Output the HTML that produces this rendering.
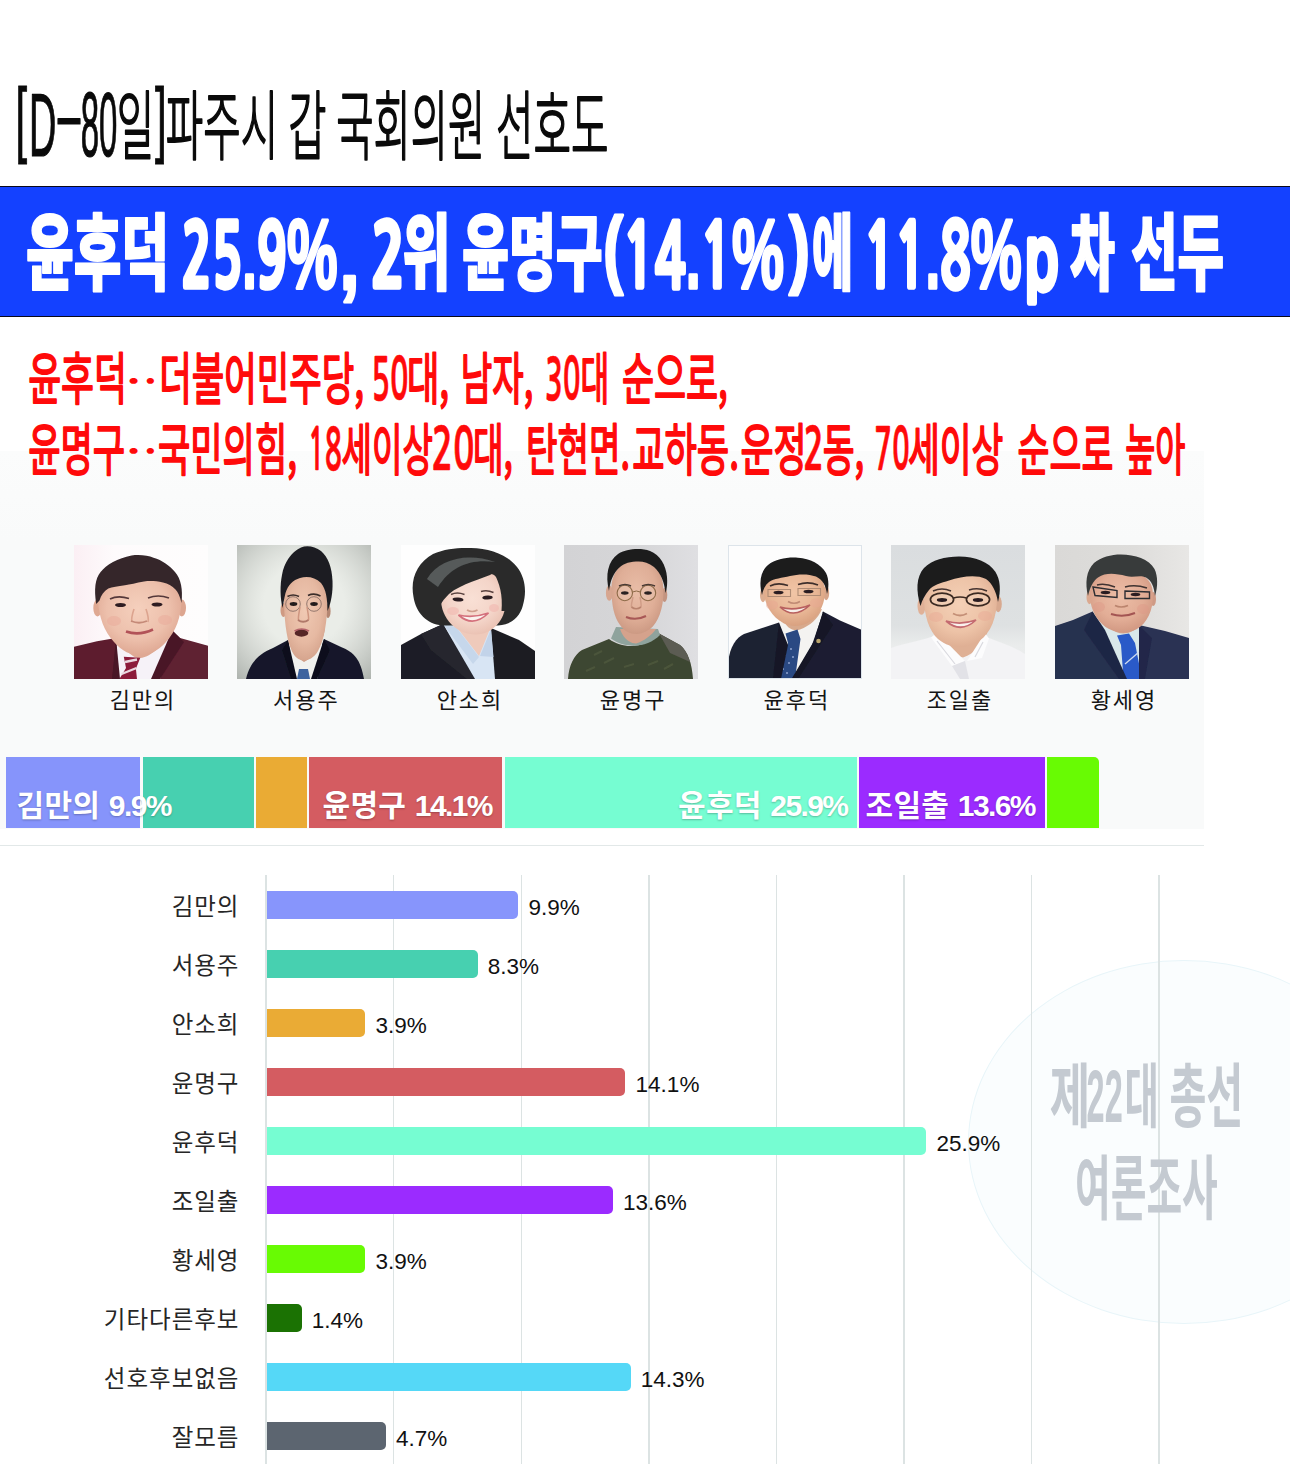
<!DOCTYPE html>
<html lang="ko"><head><meta charset="utf-8"><title>파주시 갑 국회의원 선호도</title>
<style>
html,body{margin:0;padding:0;background:#fff;}
body{width:1290px;height:1474px;position:relative;overflow:hidden;font-family:"Liberation Sans","Noto Sans CJK KR",sans-serif;}
.abs{position:absolute;}
#panel{left:0;top:451px;width:1204px;height:378px;background:linear-gradient(#fbfcfc 0,#f9fafa 90px,#f9fafa 100%);}
#banner{left:-2px;top:185.6px;width:1294px;height:129.2px;background:#1441ff;border:1px solid #0a0a1a;}
.seg{position:absolute;top:757px;height:71px;}
.seglab{position:absolute;top:788px;height:36px;line-height:36px;font-size:30px;font-weight:700;color:#fff;white-space:nowrap;letter-spacing:0.3px;text-shadow:0 1px 2px rgba(0,0,0,.25);font-family:"Liberation Sans","Noto Sans CJK KR",sans-serif;}
.seglab b{font-weight:700;letter-spacing:-1.6px;}
#hr{left:0;top:844.6px;width:1204px;height:1.5px;background:#e2e8e8;}
.grid{position:absolute;top:875px;width:1.5px;height:589px;background:#dce3e3;}
.bar{position:absolute;left:267px;height:28.4px;border-radius:0 5px 5px 0;}
.lab{position:absolute;left:41.5px;width:198px;text-align:right;height:28px;line-height:28px;font-size:23.5px;color:#262626;letter-spacing:1px;white-space:nowrap;font-family:"Noto Sans CJK KR","Liberation Sans",sans-serif;}
  .val{position:absolute;height:28px;line-height:28px;font-size:22.5px;color:#111;white-space:nowrap;font-family:"Liberation Sans",sans-serif;}
.pname{position:absolute;top:682px;width:134px;text-align:center;font-size:22px;letter-spacing:2px;padding-left:4px;box-sizing:border-box;line-height:32px;color:#151515;white-space:nowrap;font-family:"Noto Sans CJK KR","Liberation Sans",sans-serif;}
.photo{position:absolute;top:545px;width:134px;height:134px;overflow:hidden;}
svg{position:absolute;left:0;top:0;}
</style></head><body>

<div class="abs" id="panel"></div>
<div class="abs" id="banner"></div>
<div class="seg" style="left:6px;width:134.0px;background:#8694fb"></div>
<div class="seg" style="left:142.5px;width:111.0px;background:#47d0b0"></div>
<div class="seg" style="left:256px;width:51.0px;background:#eaab34"></div>
<div class="seg" style="left:309.3px;width:193.0px;background:#d45c61"></div>
<div class="seg" style="left:504.7px;width:352.6px;background:#76fdd2"></div>
<div class="seg" style="left:859.3px;width:185.7px;background:#9b2bff"></div>
<div class="seg" style="left:1047px;width:52.0px;background:#68fb03;border-radius:0 5px 0 0"></div>
<div class="seglab" style="left:16.5px">김만의 <b>9.9%</b></div>
<div class="seglab" style="left:322.5px">윤명구 <b>14.1%</b></div>
<div class="seglab" style="left:678px">윤후덕 <b>25.9%</b></div>
<div class="seglab" style="left:865.5px">조일출 <b>13.6%</b></div>
<div class="abs" id="hr"></div>
<div class="abs" style="left:968px;top:960px;width:432px;height:364px;border-radius:50%;background:#fafdfe;border:1px solid #e8f5f9;box-sizing:border-box"></div>
<div class="grid" style="left:265.2px"></div>
<div class="grid" style="left:392.9px"></div>
<div class="grid" style="left:520.5px"></div>
<div class="grid" style="left:648.0px"></div>
<div class="grid" style="left:775.6px"></div>
<div class="grid" style="left:903.2px"></div>
<div class="grid" style="left:1030.8px"></div>
<div class="grid" style="left:1158.4px"></div>
<div class="lab" style="top:890.8px">김만의</div>
<div class="bar" style="top:890.8px;width:251.3px;background:#8795fc"></div>
<div class="val" style="top:893.8px;left:528.5px">9.9%</div>
<div class="lab" style="top:949.8px">서용주</div>
<div class="bar" style="top:949.8px;width:210.5px;background:#47d0b0"></div>
<div class="val" style="top:952.8px;left:487.8px">8.3%</div>
<div class="lab" style="top:1008.8px">안소희</div>
<div class="bar" style="top:1008.8px;width:98.2px;background:#eaab35"></div>
<div class="val" style="top:1011.8px;left:375.6px">3.9%</div>
<div class="lab" style="top:1067.8px">윤명구</div>
<div class="bar" style="top:1067.8px;width:358.4px;background:#d45c61"></div>
<div class="val" style="top:1070.8px;left:635.6px">14.1%</div>
<div class="lab" style="top:1126.8px">윤후덕</div>
<div class="bar" style="top:1126.8px;width:659.2px;background:#76fdd2"></div>
<div class="val" style="top:1129.8px;left:936.5px">25.9%</div>
<div class="lab" style="top:1185.8px">조일출</div>
<div class="bar" style="top:1185.8px;width:345.6px;background:#9b2bff"></div>
<div class="val" style="top:1188.8px;left:622.9px">13.6%</div>
<div class="lab" style="top:1244.8px">황세영</div>
<div class="bar" style="top:1244.8px;width:98.2px;background:#68fb03"></div>
<div class="val" style="top:1247.8px;left:375.6px">3.9%</div>
<div class="lab" style="top:1303.8px">기타다른후보</div>
<div class="bar" style="top:1303.8px;width:34.5px;background:#1b7203"></div>
<div class="val" style="top:1306.8px;left:311.8px">1.4%</div>
<div class="lab" style="top:1362.8px">선호후보없음</div>
<div class="bar" style="top:1362.8px;width:363.5px;background:#55d8f7"></div>
<div class="val" style="top:1365.8px;left:640.8px">14.3%</div>
<div class="lab" style="top:1421.8px">잘모름</div>
<div class="bar" style="top:1421.8px;width:118.7px;background:#5c6570"></div>
<div class="val" style="top:1424.8px;left:395.9px">4.7%</div>
<div class="photo" style="left:74px"><svg width="134" height="134" viewBox="0 0 134 134"><defs><filter id="b1" x="-5%" y="-5%" width="110%" height="110%"><feGaussianBlur stdDeviation="0.55"/></filter><filter id="s1" x="-30%" y="-30%" width="160%" height="160%"><feGaussianBlur stdDeviation="3"/></filter><radialGradient id="f1" cx="0.48" cy="0.42" r="0.62"><stop offset="0" stop-color="#f5d0bd"/><stop offset="0.6" stop-color="#edc0ac"/><stop offset="1" stop-color="#dca38e"/></radialGradient><linearGradient id="g1" x1="0" x2="1" y1="0" y2="0"><stop offset="0" stop-color="#fbeff4"/><stop offset="0.3" stop-color="#fefbfc"/><stop offset="1" stop-color="#fefdfd"/></linearGradient></defs>
<rect width="134" height="134" fill="url(#g1)"/>
<g filter="url(#b1)">
<path d="M0,101.8 L23,96.300 L42,93 L47,134 L0,134Z" fill="#5d1e2f"/>
<path d="M134,100.700 L106,93 L98,85.300 L78,134 L134,134Z" fill="#5f2032"/>
<path d="M42,92 L98,85 L86,134 L44,134Z" fill="#f6f2f8"/>
<path d="M47,88 C50,106 58,113 66,113 C78,112 92,98 96,82 Z" fill="#dfa994"/>
<path d="M49.800,111.700 L66.300,112.800 L61.900,123.800 L63,134 L45.400,134 L52,123Z" fill="#8c1c3a"/>
<path d="M51,117 L63,114.500 M47.500,129 L62.500,123" stroke="#ead8e0" stroke-width="2.4"/>
<path d="M42,93 L46,134 L38,134Z" fill="#481525"/>
<path d="M98.200,85.300 L110,97 L86,134 L77,134Z" fill="#4a1727"/>
<ellipse cx="23.500" cy="63" rx="4.200" ry="8.500" fill="#dfa892"/>
<ellipse cx="107.800" cy="63" rx="4.200" ry="8.500" fill="#dda690"/>
<path d="M24,56 C23,36 36,30 66,30 C96,30 108,36 107.500,56 C107,72 102,86 92,97 C84,106 74,110.500 66,110.500 C57,110.500 48,106 40,97 C30,86 25,72 24,56Z" fill="url(#f1)"/>
<path d="M22.200,59 C20,44 21,34 26.600,27 C32,20 44,13 57.500,10.500 C66,9.500 74,10.500 79.500,12.700 C88,15 96,21 101,27 C107,34 109,44 107.500,58 C106,52 104,47 101.500,44.600 C98,40.500 94,38.500 89,37.500 C82,36 76,35.800 70,36.500 C62,38 56,39.500 50.900,40.200 C44,41.500 38,42 34.300,43.500 C30,46 27,50 25.500,55.600 Z" fill="#34272b"/>
<path d="M36,54 Q44,50 55,53.500 M74,53 Q84,49 95,53" stroke="#55393a" stroke-width="1.7" fill="none"/>
<ellipse cx="46.500" cy="60" rx="5.500" ry="2" fill="#2e1f20"/><ellipse cx="83" cy="59.500" rx="5.500" ry="2" fill="#2e1f20"/><path d="M60,64 C58,70 57,74 58,77 M72,64 C74,70 75,74 74,77" stroke="#dca48f" stroke-width="1.600" fill="none"/><ellipse cx="40" cy="76" rx="7" ry="5" fill="#e9a99a" opacity="0.500"/><ellipse cx="91" cy="75" rx="7" ry="5" fill="#e9a99a" opacity="0.500"/>
<path d="M57,76 Q65,79.500 73,76" stroke="#c58a78" stroke-width="1.800" fill="none"/>
<path d="M52,86.500 Q65,91 79,84.500" stroke="#b25258" stroke-width="2.600" fill="none"/>
</g></svg></div>
<div class="pname" style="left:74px">김만의</div>
<div class="photo" style="left:237.3px"><svg width="134" height="134" viewBox="0 0 134 134"><defs><filter id="b2" x="-5%" y="-5%" width="110%" height="110%"><feGaussianBlur stdDeviation="0.55"/></filter><filter id="s2" x="-30%" y="-30%" width="160%" height="160%"><feGaussianBlur stdDeviation="3"/></filter><radialGradient id="v2" cx="0.5" cy="0.45" r="0.75"><stop offset="0.4" stop-color="#c4c8c3" stop-opacity="0"/><stop offset="1" stop-color="#a9aea9" stop-opacity="0.95"/></radialGradient><radialGradient id="f2" cx="0.48" cy="0.42" r="0.62"><stop offset="0" stop-color="#f0c9b3"/><stop offset="0.6" stop-color="#e6b9a2"/><stop offset="1" stop-color="#d3a18a"/></radialGradient></defs>
<rect width="134" height="134" fill="#eaede8"/>
<rect width="134" height="134" fill="url(#v2)"/>
<g filter="url(#b2)">
<path d="M9,134 C13,117 22,109 36,103 L51,95 L60,134Z" fill="#15182a"/>
<path d="M127,134 C124,115 117,107 104,102 L87,94 L74,134Z" fill="#15182a"/>
<path d="M52,100 L86,100 L80,134 L55,134Z" fill="#f1f1ee"/>
<path d="M51,95 L60,134 L54,134 L45,105Z" fill="#0f111e"/>
<path d="M87,94 L93,105 L80,134 L74,134Z" fill="#0f111e"/>
<path d="M62,124 L71,124 L73,134 L60,134Z" fill="#3d639f"/>
<path d="M50,84 C52,100 58,112 67,117 C77,112 85,100 88,84Z" fill="#cf9a82"/>
<ellipse cx="46.500" cy="65" rx="3" ry="7" fill="#cf9a82"/>
<ellipse cx="91" cy="66" rx="2.600" ry="7" fill="#b48672"/>
<path d="M47,52 C47,36 54,30 68,30 C82,30 90.500,38 90.500,54 C90.500,76 87,96 81,106 C77,113 71,115.500 67,115.500 C62,115.500 57,112 54,104 C49,92 47,72 47,52Z" fill="url(#f2)"/>
<path d="M45.500,63 C43,52 43,40 45,30 C47,18 54,7 64,2.500 C70,0 78,1.500 84,6 C91,12 95,22 95.500,36 C96,48 94,58 90.500,66 C90.500,54 89,44 84,38 C78,32 70,31 63,33 C56,35 51,40 48.500,48 C47,54 46.500,58 45.500,63Z" fill="#1c1c21"/>
<circle cx="56" cy="59" r="7.300" fill="none" stroke="#8a6f66" stroke-width="0.900"/>
<circle cx="77" cy="59" r="7.300" fill="none" stroke="#8a6f66" stroke-width="0.900"/>
<path d="M50.500,51.500 Q56,48.500 62,51.500 M71,50.500 Q77,47.500 83.500,51" stroke="#3b2d2b" stroke-width="1.600" fill="none"/>
<ellipse cx="56.500" cy="59" rx="3.800" ry="1.900" fill="#241a1b"/><ellipse cx="77" cy="59" rx="3.800" ry="1.900" fill="#241a1b"/><path d="M63,62 C62,68 61,72 61.500,75 M70,62 C71,68 72,72 71.500,75" stroke="#cf9680" stroke-width="1.500" fill="none"/>
<path d="M61,75 Q66,78.500 71.500,75" stroke="#b0796a" stroke-width="2" fill="none"/>
<ellipse cx="64.500" cy="88" rx="6.800" ry="3.700" fill="#562628"/>
<path d="M57.500,86 Q64.500,82 72,86" stroke="#b5636a" stroke-width="1.700" fill="none"/>
</g></svg></div>
<div class="pname" style="left:237.3px">서용주</div>
<div class="photo" style="left:401px"><svg width="134" height="134" viewBox="0 0 134 134"><defs><filter id="b3" x="-5%" y="-5%" width="110%" height="110%"><feGaussianBlur stdDeviation="0.55"/></filter><filter id="s3" x="-30%" y="-30%" width="160%" height="160%"><feGaussianBlur stdDeviation="3"/></filter><radialGradient id="f3" cx="0.48" cy="0.42" r="0.62"><stop offset="0" stop-color="#f9e0d5"/><stop offset="0.6" stop-color="#f4d5c9"/><stop offset="1" stop-color="#e9bfb0"/></radialGradient></defs>
<rect width="134" height="134" fill="#fefefe"/>
<g filter="url(#b3)">
<path d="M0,100 L20,89 L42,79 L74,134 L0,134Z" fill="#1d1e25"/>
<path d="M134,106 L118,95 L90,83 L88,134 L134,134Z" fill="#1b1c22"/>
<path d="M42,79 L90,84 L94,134 L72,134Z" fill="#d8e5f4"/>
<path d="M54,80 L89,84 L78,111 Z" fill="#efcabb"/>
<path d="M42,79 L55,82 L78,112 L72,119Z" fill="#c6d7eb"/>
<path d="M90,84 L92.500,112 L79,111Z" fill="#c2d3e9"/>
<path d="M20,89 L42,79 L74,134 L66,134 L30,105Z" fill="#26272f"/>
<path d="M12.500,52 C9,34 16,18 32,9 C44,3.500 58,2.500 70,3 C88,3.500 106,9 116,22 C124,32 126,46 122,60 C119,72 110,80 97,80.500 L41,80.500 C26,79 15,68 12.500,52Z" fill="#2a2c2c"/>
<path d="M26,34 C38,14 66,7 94,17 C70,13.500 50,21 37,42Z" fill="#666969" opacity="0.750"/>
<path d="M40,54 C40,42 48,34 60,31 C72,28 86,26 93,30 C101,36 104.500,46 104.500,58 C104.500,74 92,89.500 74.500,89.500 C56,89.500 40,74 40,54Z" fill="url(#f3)"/>
<path d="M37.500,64 C33,46 44,31 64,28.500 C78,26.500 87,22 93,28 C82,34 60,38.500 48,49 C42,55 39.500,59 37.500,64Z" fill="#2a2c2c"/>
<path d="M104.500,66 C108.500,52 105,37 93,28 C98.500,38 102,50 100.500,66Z" fill="#2a2c2c"/>
<path d="M50,49.500 Q56,46.500 63.500,49.500 M80,46.500 Q86,44.500 92.500,47.500" stroke="#5a4340" stroke-width="1.400" fill="none"/>
<ellipse cx="57" cy="54.500" rx="5.500" ry="2" fill="#2a1f20" transform="rotate(4 57 54.500)"/><ellipse cx="86.500" cy="52.500" rx="5.200" ry="2" fill="#2a1f20" transform="rotate(-3 86.500 52.500)"/><ellipse cx="52" cy="66" rx="6" ry="4" fill="#f0b5ad" opacity="0.550"/><ellipse cx="93" cy="63" rx="5" ry="4" fill="#f0b5ad" opacity="0.550"/>
<path d="M66,65 Q71,68 76.500,65" stroke="#d09f8e" stroke-width="1.700" fill="none"/>
<path d="M57.500,70 Q72,83 87.500,68 Q72,73.500 57.500,70Z" fill="#fbf3ef" stroke="#d4707c" stroke-width="1.700"/>
</g></svg></div>
<div class="pname" style="left:401px">안소희</div>
<div class="photo" style="left:564.2px"><svg width="134" height="134" viewBox="0 0 134 134"><defs><filter id="b4" x="-5%" y="-5%" width="110%" height="110%"><feGaussianBlur stdDeviation="0.55"/></filter><filter id="s4" x="-30%" y="-30%" width="160%" height="160%"><feGaussianBlur stdDeviation="3"/></filter><radialGradient id="f4" cx="0.48" cy="0.42" r="0.62"><stop offset="0" stop-color="#e9bda7"/><stop offset="0.6" stop-color="#dfae97"/><stop offset="1" stop-color="#c99680"/></radialGradient><linearGradient id="g4" x1="0" x2="1" y1="0" y2="0"><stop offset="0" stop-color="#d3d3d5"/><stop offset="0.6" stop-color="#d6d6d8"/><stop offset="1" stop-color="#dfdfe2"/></linearGradient></defs>
<rect width="134" height="134" fill="url(#g4)"/>
<g filter="url(#b4)">
<path d="M4,134 C5,120 10,110 18,105 L45,94 C60,105 82,103 95,88.600 L116,100 C124,107 128,118 129,134Z" fill="#3d4630"/>
<path d="M95,88.600 L116,100 C121,104 124,110 126,117 L106,108Z" fill="#5c5b52"/>
<path d="M30,110 l8,-4 M40,118 l10,-5 M60,122 l10,-3 M84,120 l10,-4 M100,124 l9,-5 M22,126 l9,-4" stroke="#4b553b" stroke-width="2.200"/>
<path d="M52,82 L94,84 L96,90 C84,102.500 62,104.500 47,93.500Z" fill="#8fa39d"/>
<path d="M56,84 C60,96 68,98.500 72,98.500 C80,96 88,90 92,84Z" fill="#d5a28c"/>
<ellipse cx="45.300" cy="48" rx="3.400" ry="7.800" fill="#d7a690"/>
<ellipse cx="100.500" cy="50" rx="2.800" ry="7" fill="#c39480"/>
<path d="M47.500,44 C47.500,26 58,15 74,15 C90,15 99.500,27 99.500,46 C99.500,64 94,78 86,84 C80,88 76,89 72,89 C66,89 60,86 56,80 C50,72 47.500,60 47.500,44Z" fill="url(#f4)"/>
<path d="M45,46 C41,30 44,16 54,9 C62,4 76,2.500 86,6 C96,10 102,20 103,32 C103.500,38 103,44 101.500,48 C100.500,38 97,28 90,22 C84,17 78,16 72,16.500 C64,17 58,19 53,25 C48,31 46,38 45,46Z" fill="#1d1d1e"/>
<circle cx="60.800" cy="48" r="7.700" fill="#ecc8b4" fill-opacity="0.450" stroke="#8d6a48" stroke-width="1.100"/>
<circle cx="84" cy="48" r="7.700" fill="#ecc8b4" fill-opacity="0.450" stroke="#8d6a48" stroke-width="1.100"/>
<path d="M68.500,47 Q72.400,45 76.300,47" stroke="#8d6a48" stroke-width="1" fill="none"/>
<path d="M55,41 Q61,38 67,41 M78,41 Q84,38 91,41" stroke="#4a3a34" stroke-width="1.500" fill="none"/>
<ellipse cx="60.800" cy="48" rx="3.800" ry="1.700" fill="#2a2022"/><ellipse cx="84" cy="48" rx="3.800" ry="1.700" fill="#2a2022"/><path d="M69,52 C68,57 67,60 67.500,62 M76,52 C77,57 77.500,60 77,62" stroke="#cf9c86" stroke-width="1.400" fill="none"/>
<path d="M67.500,62 Q72,65.500 77,62" stroke="#b9836e" stroke-width="1.700" fill="none"/>
<path d="M62,72 Q72,76 82,71" stroke="#a85856" stroke-width="2.100" fill="none"/>
</g></svg></div>
<div class="pname" style="left:564.2px">윤명구</div>
<div class="photo" style="left:727.8px"><svg width="134" height="134" viewBox="0 0 134 134"><defs><filter id="b5" x="-5%" y="-5%" width="110%" height="110%"><feGaussianBlur stdDeviation="0.55"/></filter><filter id="s5" x="-30%" y="-30%" width="160%" height="160%"><feGaussianBlur stdDeviation="3"/></filter><radialGradient id="f5" cx="0.48" cy="0.42" r="0.62"><stop offset="0" stop-color="#f1c5a6"/><stop offset="0.6" stop-color="#e8b695"/><stop offset="1" stop-color="#d69d7c"/></radialGradient></defs>
<rect width="134" height="134" fill="#fdfdfd"/>
<g filter="url(#b5)">
<path d="M0,118 C2,101 8,93 16,89 L51,77.600 L66,134 L0,134Z" fill="#1c2031"/>
<path d="M134,85 L112,75.500 L95,66.600 L64,134 L134,134Z" fill="#1b1f30"/>
<path d="M51,77.600 L95,67.700 L84,100 L66,134 L59,134Z" fill="#f4f3f1"/>
<path d="M54,72 C58,84 66,86.500 72,84.500 C82,80.500 90,74 94,64Z" fill="#d8a98c"/>
<path d="M57.500,88.500 L69.500,84.500 L72.500,94 L67,134 L48.600,134 L60,98Z" fill="#2b4883"/>
<path d="M56,110 l2,0 M60,118 l2,0 M54,124 l2,0 M62,104 l2,0 M58,128 l2,0 M64,112 l2,0" stroke="#8ea3cf" stroke-width="1.400"/>
<path d="M51,77.600 L60,100 L53,134 L45,134Z" fill="#131726"/>
<path d="M95,66.600 L105,80 L70,134 L63.500,134 L86,96Z" fill="#121625"/>
<circle cx="90.500" cy="96" r="2.300" fill="#b9a36a"/>
<ellipse cx="35" cy="50" rx="3" ry="7.200" fill="#dcae92"/>
<ellipse cx="98.200" cy="48" rx="3" ry="7.200" fill="#d6a58a"/>
<path d="M36,45 C36,30 48,24 66,24 C84,24 97,31 97,46 C97,62 88,75.500 76,79.500 C70,81.500 62,81.500 56,78.500 C44,72 36,60 36,45Z" fill="url(#f5)"/>
<path d="M34,50 C31,38 32,27 40,20 C48,13.500 60,12 70,12.700 C82,13.500 93,19 98,28 C101,34 101,42 99,49 C98,41 95,35 88,31.500 C80,28.500 70,29 62,31 C54,33 46,33.500 41,37 C37,40 35,45 34,50Z" fill="#1a1a1d"/>
<path d="M40,44.500 h22.500 v7 h-22.500Z M70,43.500 h22.500 v7 h-22.500Z" fill="none" stroke="#b08c74" stroke-width="1.100"/>
<path d="M42,41 Q50,37 60,40.500 M70,39.500 Q80,36 90,40" stroke="#3e2f2b" stroke-width="1.600" fill="none"/>
<ellipse cx="50.500" cy="47.500" rx="5" ry="1.800" fill="#2a1f20"/><ellipse cx="80.500" cy="46.500" rx="5" ry="1.800" fill="#2a1f20"/><ellipse cx="44" cy="60" rx="6" ry="4.500" fill="#e7a892" opacity="0.500"/><ellipse cx="88" cy="58" rx="6" ry="4.500" fill="#e7a892" opacity="0.500"/>
<path d="M60,56.500 Q66,60 72,56.500" stroke="#c08b74" stroke-width="1.700" fill="none"/>
<path d="M52,62 Q66,75 82,60 Q66,66.500 52,62Z" fill="#f7efe9" stroke="#b8605e" stroke-width="1.600"/>
</g>
<rect x="0.5" y="0.5" width="133" height="133" fill="none" stroke="#dde4ea" stroke-width="1"/></svg></div>
<div class="pname" style="left:727.8px">윤후덕</div>
<div class="photo" style="left:891px"><svg width="134" height="134" viewBox="0 0 134 134"><defs><filter id="b6" x="-5%" y="-5%" width="110%" height="110%"><feGaussianBlur stdDeviation="0.55"/></filter><filter id="s6" x="-30%" y="-30%" width="160%" height="160%"><feGaussianBlur stdDeviation="3"/></filter><radialGradient id="f6" cx="0.48" cy="0.42" r="0.62"><stop offset="0" stop-color="#f4d0b6"/><stop offset="0.6" stop-color="#edc3a7"/><stop offset="1" stop-color="#dcab90"/></radialGradient><linearGradient id="g6" x1="0" x2="0" y1="0" y2="1"><stop offset="0" stop-color="#dadddf"/><stop offset="0.6" stop-color="#dee1e2"/><stop offset="0.75" stop-color="#eaecec"/><stop offset="1" stop-color="#eeefef"/></linearGradient></defs>
<rect width="134" height="134" fill="url(#g6)"/>
<g filter="url(#b6)">
<path d="M0,103 C14,98 28,96 40,92 L98,93 C110,98 124,102 134,109 L134,134 L0,134Z" fill="#f3f3f5"/>
<path d="M44,88 C50,104 62,110.500 72,112.500 C84,108 92,100 96,88Z" fill="#dfb095"/>
<path d="M40,92.500 L46,87.500 L74,116 L61,121Z" fill="#fcfcfd"/>
<path d="M98,93.500 L94,88 L76,116 L91,113Z" fill="#fcfcfd"/>
<path d="M61,121 L74,116 L78,134 L69,134Z" fill="#e2e2e7"/>
<path d="M46,96 L64,119 M92,97 L84,112" stroke="#d9d9df" stroke-width="1.200" fill="none"/>
<ellipse cx="30.500" cy="61" rx="4" ry="8.800" fill="#e0b197"/>
<ellipse cx="107.200" cy="59" rx="3.600" ry="8.200" fill="#d8a98f"/>
<path d="M33,53 C33,36 46,28 68,28 C92,28 106,35 106,53 C106,72 100,88 88,96 C80,101 74,102 69,102 C62,102 54,100 47,94 C38,86 33,70 33,53Z" fill="url(#f6)"/>
<path d="M29.500,61 C25,46 25,32 33,23 C41,15 54,11.500 68,11.500 C84,11.500 98,17 104.500,27 C109.500,35 110,46 107,57 C105,46 101,38 95,34 C84,29 70,32 58,35.500 C50,38 42,40 38,45 C34,50 31,55 29.500,61Z" fill="#1b1b1d"/>
<ellipse cx="51" cy="54.500" rx="11.600" ry="6.400" fill="#f2d1b9" fill-opacity="0.500" stroke="#3b2a22" stroke-width="1.700"/>
<ellipse cx="87" cy="54.500" rx="11.600" ry="6.400" fill="#f2d1b9" fill-opacity="0.500" stroke="#3b2a22" stroke-width="1.700"/>
<path d="M62.500,53 Q69,51 75.500,53" stroke="#3b2a22" stroke-width="1.400" fill="none"/>
<path d="M42,46 Q51,42 60,46 M78,45 Q87,42 96,46" stroke="#453430" stroke-width="1.500" fill="none"/>
<ellipse cx="51" cy="55" rx="5.200" ry="1.900" fill="#2a1f20"/><ellipse cx="87" cy="55" rx="5.200" ry="1.900" fill="#2a1f20"/><ellipse cx="45" cy="72" rx="7" ry="5" fill="#e9a995" opacity="0.450"/><ellipse cx="94" cy="71" rx="7" ry="5" fill="#e9a995" opacity="0.450"/>
<path d="M62,68.500 Q69,72.500 76,68.500" stroke="#c48f76" stroke-width="1.800" fill="none"/>
<path d="M55,76 Q70,89 85,75 Q70,80.500 55,76Z" fill="#faf2ee" stroke="#c46a70" stroke-width="1.700"/>
</g></svg></div>
<div class="pname" style="left:891px">조일출</div>
<div class="photo" style="left:1055px"><svg width="134" height="134" viewBox="0 0 134 134"><defs><filter id="b7" x="-5%" y="-5%" width="110%" height="110%"><feGaussianBlur stdDeviation="0.55"/></filter><filter id="s7" x="-30%" y="-30%" width="160%" height="160%"><feGaussianBlur stdDeviation="3"/></filter><radialGradient id="f7" cx="0.48" cy="0.42" r="0.62"><stop offset="0" stop-color="#ecbda6"/><stop offset="0.6" stop-color="#e2ad96"/><stop offset="1" stop-color="#cf957f"/></radialGradient><linearGradient id="g7" x1="0" x2="1" y1="0" y2="0"><stop offset="0" stop-color="#dad9d7"/><stop offset="0.6" stop-color="#dedddb"/><stop offset="1" stop-color="#e8e7e5"/></linearGradient></defs>
<rect width="134" height="134" fill="url(#g7)"/>
<g filter="url(#b7)">
<path d="M0,81 L18,75 L37.600,66.600 L70,134 L0,134Z" fill="#283050"/>
<path d="M134,93 L110,86 L84,80 L82,134 L134,134Z" fill="#2a3253"/>
<path d="M38,67 L84,80 L88,134 L66,134Z" fill="#d9e8ea"/>
<path d="M44,66 C50,82 60,88.500 68,88.500 C76,88.500 82,84 86,78Z" fill="#d5a08a"/>
<path d="M62,90.500 L74,88.500 L80,98 L87,134 L68.500,134 L66,100Z" fill="#2a5ac8"/>
<path d="M70,119 L84,107" stroke="#cfdcf0" stroke-width="1.300"/>
<path d="M37.600,66.600 L50,85 L72,134 L64,134 L29,85Z" fill="#1f2744"/>
<path d="M84,80 L97,93 L90,134 L84,134Z" fill="#20284a"/>
<ellipse cx="34.500" cy="52" rx="3" ry="7.200" fill="#dba990"/>
<ellipse cx="98.200" cy="54" rx="2.800" ry="7" fill="#cf9a85"/>
<path d="M35,48 C35,33 46,26 66,26 C86,26 98,33 98,50 C98,66 92,78 82,84 C76,87 70,88 64,87 C54,86 46,80 40,70 C36,62 35,56 35,48Z" fill="url(#f7)"/>
<path d="M33,51 C30,38 31,26 39,18 C46,12 56,9.400 66,9.400 C80,9.400 94,14 99.500,24 C103,31 103,42 100,51 C99,42 97,36 91,32.500 C85,29.500 79,33 71,31 C61,28.500 51,27 43,32.500 C37.500,36.500 35,43 33,51Z" fill="#383b3b"/>
<path d="M38,42 L62,45.500 L62,52.500 L40,50.500Z M70,46 L94.500,47 L94.500,53.500 L70,53.500Z" fill="none" stroke="#2d2d33" stroke-width="1.400"/>
<path d="M42,40 Q50,38 60,42 M70,42 Q80,39 92,43" stroke="#3f3330" stroke-width="1.500" fill="none"/>
<ellipse cx="50.500" cy="47.500" rx="4.800" ry="1.700" fill="#2a1f20"/><ellipse cx="80.500" cy="49.500" rx="4.800" ry="1.700" fill="#2a1f20"/><ellipse cx="44" cy="62" rx="6" ry="5" fill="#dd9a88" opacity="0.450"/><ellipse cx="88" cy="64" rx="6" ry="5" fill="#dd9a88" opacity="0.450"/>
<path d="M60,60.500 Q66,63.500 73,60.500" stroke="#bb846e" stroke-width="1.700" fill="none"/>
<path d="M56,69 Q68,73 80,68" stroke="#a35452" stroke-width="2.100" fill="none"/>
</g></svg></div>
<div class="pname" style="left:1055px">황세영</div>
<svg width="1290" height="1474" viewBox="0 0 1290 1474">
<text x="15.5" y="146.6" textLength="11.6" lengthAdjust="spacingAndGlyphs" font-size="83" font-weight="400" fill="#0a0a0a" font-family='"Liberation Sans","Noto Sans CJK KR",sans-serif' stroke="#0a0a0a" stroke-width="1.2" stroke-linejoin="round">[</text>
<text x="29.0" y="155.6" textLength="27.4" lengthAdjust="spacingAndGlyphs" font-size="89" font-weight="400" fill="#0a0a0a" font-family='"Liberation Sans","Noto Sans CJK KR",sans-serif' stroke="#0a0a0a" stroke-width="1.2" stroke-linejoin="round">D</text>
<text x="54.2" y="140" textLength="29.5" lengthAdjust="spacingAndGlyphs" font-size="70" font-weight="400" fill="#0a0a0a" font-family='"Liberation Sans","Noto Sans CJK KR",sans-serif' stroke="#0a0a0a" stroke-width="1.2" stroke-linejoin="round">-</text>
<text x="80.7" y="156.2" textLength="36.7" lengthAdjust="spacingAndGlyphs" font-size="90" font-weight="400" fill="#0a0a0a" font-family='"Liberation Sans","Noto Sans CJK KR",sans-serif' stroke="#0a0a0a" stroke-width="1.2" stroke-linejoin="round">80</text>
<text x="116.8" y="154" textLength="37.4" lengthAdjust="spacingAndGlyphs" font-size="76" font-weight="300" fill="#0a0a0a" font-family='"Noto Sans CJK KR","Liberation Sans",sans-serif' stroke="#0a0a0a" stroke-width="2.2" stroke-linejoin="round">일</text>
<text x="155.0" y="146.6" textLength="11.7" lengthAdjust="spacingAndGlyphs" font-size="83" font-weight="400" fill="#0a0a0a" font-family='"Liberation Sans","Noto Sans CJK KR",sans-serif' stroke="#0a0a0a" stroke-width="1.2" stroke-linejoin="round">]</text>
<text x="165.8" y="154" textLength="112.3" lengthAdjust="spacingAndGlyphs" font-size="76" font-weight="300" fill="#0a0a0a" font-family='"Noto Sans CJK KR","Liberation Sans",sans-serif' stroke="#0a0a0a" stroke-width="2.2" stroke-linejoin="round">파주시</text>
<text x="288.2" y="154" textLength="38.2" lengthAdjust="spacingAndGlyphs" font-size="76" font-weight="300" fill="#0a0a0a" font-family='"Noto Sans CJK KR","Liberation Sans",sans-serif' stroke="#0a0a0a" stroke-width="2.2" stroke-linejoin="round">갑</text>
<text x="336.2" y="154" textLength="149.1" lengthAdjust="spacingAndGlyphs" font-size="76" font-weight="300" fill="#0a0a0a" font-family='"Noto Sans CJK KR","Liberation Sans",sans-serif' stroke="#0a0a0a" stroke-width="2.2" stroke-linejoin="round">국회의원</text>
<text x="496.0" y="154" textLength="112.6" lengthAdjust="spacingAndGlyphs" font-size="76" font-weight="300" fill="#0a0a0a" font-family='"Noto Sans CJK KR","Liberation Sans",sans-serif' stroke="#0a0a0a" stroke-width="2.2" stroke-linejoin="round">선호도</text>
<text x="26.0" y="283.2" textLength="143.0" lengthAdjust="spacingAndGlyphs" font-size="83" font-weight="900" fill="#ffffff" font-family='"Noto Sans CJK KR","Liberation Sans",sans-serif' stroke="#ffffff" stroke-width="2.0" stroke-linejoin="round">윤후덕</text>
<text x="181.2" y="288" textLength="156.4" lengthAdjust="spacingAndGlyphs" font-size="88" font-weight="800" fill="#ffffff" font-family='"NanumGothic","Liberation Sans",sans-serif' stroke="#ffffff" stroke-width="3.4" stroke-linejoin="round">25<tspan font-family="Liberation Sans" font-weight="700">.</tspan>9<tspan font-family="Liberation Sans" font-weight="700" font-size="99">%</tspan></text>
<text x="339.5" y="289" textLength="20.1" lengthAdjust="spacingAndGlyphs" font-size="85" font-weight="700" fill="#ffffff" font-family='"Liberation Sans","Noto Sans CJK KR",sans-serif' stroke="#ffffff" stroke-width="3.0" stroke-linejoin="round">,</text>
<text x="370.8" y="288" textLength="34.5" lengthAdjust="spacingAndGlyphs" font-size="88" font-weight="800" fill="#ffffff" font-family='"NanumGothic","Liberation Sans",sans-serif' stroke="#ffffff" stroke-width="3.4" stroke-linejoin="round">2</text>
<text x="402.5" y="283.2" textLength="48.0" lengthAdjust="spacingAndGlyphs" font-size="83" font-weight="900" fill="#ffffff" font-family='"Noto Sans CJK KR","Liberation Sans",sans-serif' stroke="#ffffff" stroke-width="2.0" stroke-linejoin="round">위</text>
<text x="462.0" y="283.2" textLength="140.8" lengthAdjust="spacingAndGlyphs" font-size="83" font-weight="900" fill="#ffffff" font-family='"Noto Sans CJK KR","Liberation Sans",sans-serif' stroke="#ffffff" stroke-width="2.0" stroke-linejoin="round">윤명구</text>
<text x="603.3" y="277" textLength="19.9" lengthAdjust="spacingAndGlyphs" font-size="85" font-weight="700" fill="#ffffff" font-family='"Liberation Sans","Noto Sans CJK KR",sans-serif' stroke="#ffffff" stroke-width="3.0" stroke-linejoin="round">(</text>
<text x="622.9" y="288" textLength="161.1" lengthAdjust="spacingAndGlyphs" font-size="88" font-weight="800" fill="#ffffff" font-family='"NanumGothic","Liberation Sans",sans-serif' stroke="#ffffff" stroke-width="3.4" stroke-linejoin="round">14<tspan font-family="Liberation Sans" font-weight="700">.</tspan>1<tspan font-family="Liberation Sans" font-weight="700" font-size="99">%</tspan></text>
<text x="788.9" y="277" textLength="20.9" lengthAdjust="spacingAndGlyphs" font-size="85" font-weight="700" fill="#ffffff" font-family='"Liberation Sans","Noto Sans CJK KR",sans-serif' stroke="#ffffff" stroke-width="3.0" stroke-linejoin="round">)</text>
<text x="812.0" y="283.2" textLength="41.0" lengthAdjust="spacingAndGlyphs" font-size="83" font-weight="900" fill="#ffffff" font-family='"Noto Sans CJK KR","Liberation Sans",sans-serif' stroke="#ffffff" stroke-width="2.0" stroke-linejoin="round">에</text>
<text x="864.0" y="288" textLength="157.8" lengthAdjust="spacingAndGlyphs" font-size="88" font-weight="800" fill="#ffffff" font-family='"NanumGothic","Liberation Sans",sans-serif' stroke="#ffffff" stroke-width="3.4" stroke-linejoin="round">11<tspan font-family="Liberation Sans" font-weight="700">.</tspan>8<tspan font-family="Liberation Sans" font-weight="700" font-size="99">%</tspan></text>
<text x="1023.7" y="290.3" textLength="36.4" lengthAdjust="spacingAndGlyphs" font-size="91" font-weight="800" fill="#ffffff" font-family='"NanumGothic","Liberation Sans",sans-serif' stroke="#ffffff" stroke-width="3.4" stroke-linejoin="round">p</text>
<text x="1070.0" y="283.2" textLength="45.0" lengthAdjust="spacingAndGlyphs" font-size="83" font-weight="900" fill="#ffffff" font-family='"Noto Sans CJK KR","Liberation Sans",sans-serif' stroke="#ffffff" stroke-width="2.0" stroke-linejoin="round">차</text>
<text x="1131.0" y="283.2" textLength="93.0" lengthAdjust="spacingAndGlyphs" font-size="83" font-weight="900" fill="#ffffff" font-family='"Noto Sans CJK KR","Liberation Sans",sans-serif' stroke="#ffffff" stroke-width="2.0" stroke-linejoin="round">선두</text>
<text x="28.2" y="399.4" textLength="98.7" lengthAdjust="spacingAndGlyphs" font-size="56" font-weight="400" fill="#ff0a0a" font-family='"Noto Sans CJK KR","Liberation Sans",sans-serif' stroke="#ff0a0a" stroke-width="2.0" stroke-linejoin="round">윤후덕</text>
<text x="126.4" y="392" textLength="14.2" lengthAdjust="spacingAndGlyphs" font-size="30" font-weight="700" fill="#ff0a0a" font-family='"Noto Sans CJK KR","Liberation Sans",sans-serif' >·</text>
<text x="144.1" y="392" textLength="12.8" lengthAdjust="spacingAndGlyphs" font-size="30" font-weight="700" fill="#ff0a0a" font-family='"Noto Sans CJK KR","Liberation Sans",sans-serif' >·</text>
<text x="159.2" y="399.4" textLength="205.0" lengthAdjust="spacingAndGlyphs" font-size="56" font-weight="400" fill="#ff0a0a" font-family='"Noto Sans CJK KR","Liberation Sans",sans-serif' stroke="#ff0a0a" stroke-width="2.0" stroke-linejoin="round">더불어민주당,</text>
<text x="371.4" y="400.2" textLength="37.0" lengthAdjust="spacingAndGlyphs" font-size="58" font-weight="700" fill="#ff0a0a" font-family='"NanumGothic","Liberation Sans",sans-serif' stroke="#ff0a0a" stroke-width="0.7" stroke-linejoin="round">50</text>
<text x="407.0" y="399.4" textLength="42.2" lengthAdjust="spacingAndGlyphs" font-size="56" font-weight="400" fill="#ff0a0a" font-family='"Noto Sans CJK KR","Liberation Sans",sans-serif' stroke="#ff0a0a" stroke-width="2.0" stroke-linejoin="round">대,</text>
<text x="460.8" y="399.4" textLength="72.4" lengthAdjust="spacingAndGlyphs" font-size="56" font-weight="400" fill="#ff0a0a" font-family='"Noto Sans CJK KR","Liberation Sans",sans-serif' stroke="#ff0a0a" stroke-width="2.0" stroke-linejoin="round">남자,</text>
<text x="544.9" y="400.2" textLength="35.7" lengthAdjust="spacingAndGlyphs" font-size="58" font-weight="700" fill="#ff0a0a" font-family='"NanumGothic","Liberation Sans",sans-serif' stroke="#ff0a0a" stroke-width="0.7" stroke-linejoin="round">30</text>
<text x="580.6" y="399.4" textLength="28.7" lengthAdjust="spacingAndGlyphs" font-size="56" font-weight="400" fill="#ff0a0a" font-family='"Noto Sans CJK KR","Liberation Sans",sans-serif' stroke="#ff0a0a" stroke-width="2.0" stroke-linejoin="round">대</text>
<text x="622.0" y="399.4" textLength="105.8" lengthAdjust="spacingAndGlyphs" font-size="56" font-weight="400" fill="#ff0a0a" font-family='"Noto Sans CJK KR","Liberation Sans",sans-serif' stroke="#ff0a0a" stroke-width="2.0" stroke-linejoin="round">순으로,</text>
<text x="28.2" y="469.6" textLength="97.0" lengthAdjust="spacingAndGlyphs" font-size="56" font-weight="400" fill="#ff0a0a" font-family='"Noto Sans CJK KR","Liberation Sans",sans-serif' stroke="#ff0a0a" stroke-width="2.0" stroke-linejoin="round">윤명구</text>
<text x="126.4" y="462" textLength="14.2" lengthAdjust="spacingAndGlyphs" font-size="30" font-weight="700" fill="#ff0a0a" font-family='"Noto Sans CJK KR","Liberation Sans",sans-serif' >·</text>
<text x="144.1" y="462" textLength="12.8" lengthAdjust="spacingAndGlyphs" font-size="30" font-weight="700" fill="#ff0a0a" font-family='"Noto Sans CJK KR","Liberation Sans",sans-serif' >·</text>
<text x="158.0" y="469.6" textLength="139.0" lengthAdjust="spacingAndGlyphs" font-size="56" font-weight="400" fill="#ff0a0a" font-family='"Noto Sans CJK KR","Liberation Sans",sans-serif' stroke="#ff0a0a" stroke-width="2.0" stroke-linejoin="round">국민의힘,</text>
<text x="307.7" y="470.4" textLength="34.3" lengthAdjust="spacingAndGlyphs" font-size="58" font-weight="700" fill="#ff0a0a" font-family='"NanumGothic","Liberation Sans",sans-serif' stroke="#ff0a0a" stroke-width="0.7" stroke-linejoin="round">18</text>
<text x="341.6" y="469.6" textLength="91.2" lengthAdjust="spacingAndGlyphs" font-size="56" font-weight="400" fill="#ff0a0a" font-family='"Noto Sans CJK KR","Liberation Sans",sans-serif' stroke="#ff0a0a" stroke-width="2.0" stroke-linejoin="round">세이상</text>
<text x="431.4" y="470.4" textLength="43.2" lengthAdjust="spacingAndGlyphs" font-size="58" font-weight="700" fill="#ff0a0a" font-family='"NanumGothic","Liberation Sans",sans-serif' stroke="#ff0a0a" stroke-width="0.7" stroke-linejoin="round">20</text>
<text x="473.0" y="469.6" textLength="39.8" lengthAdjust="spacingAndGlyphs" font-size="56" font-weight="400" fill="#ff0a0a" font-family='"Noto Sans CJK KR","Liberation Sans",sans-serif' stroke="#ff0a0a" stroke-width="2.0" stroke-linejoin="round">대,</text>
<text x="526.0" y="469.6" textLength="104.0" lengthAdjust="spacingAndGlyphs" font-size="56" font-weight="400" fill="#ff0a0a" font-family='"Noto Sans CJK KR","Liberation Sans",sans-serif' stroke="#ff0a0a" stroke-width="2.0" stroke-linejoin="round">탄현면.</text>
<text x="632.2" y="469.6" textLength="106.8" lengthAdjust="spacingAndGlyphs" font-size="56" font-weight="400" fill="#ff0a0a" font-family='"Noto Sans CJK KR","Liberation Sans",sans-serif' stroke="#ff0a0a" stroke-width="2.0" stroke-linejoin="round">교하동.</text>
<text x="740.4" y="469.6" textLength="66.1" lengthAdjust="spacingAndGlyphs" font-size="56" font-weight="400" fill="#ff0a0a" font-family='"Noto Sans CJK KR","Liberation Sans",sans-serif' stroke="#ff0a0a" stroke-width="2.0" stroke-linejoin="round">운정</text>
<text x="803.2" y="470.4" textLength="20.7" lengthAdjust="spacingAndGlyphs" font-size="58" font-weight="700" fill="#ff0a0a" font-family='"NanumGothic","Liberation Sans",sans-serif' stroke="#ff0a0a" stroke-width="0.7" stroke-linejoin="round">2</text>
<text x="822.7" y="469.6" textLength="41.5" lengthAdjust="spacingAndGlyphs" font-size="56" font-weight="400" fill="#ff0a0a" font-family='"Noto Sans CJK KR","Liberation Sans",sans-serif' stroke="#ff0a0a" stroke-width="2.0" stroke-linejoin="round">동,</text>
<text x="874.2" y="470.4" textLength="35.5" lengthAdjust="spacingAndGlyphs" font-size="58" font-weight="700" fill="#ff0a0a" font-family='"NanumGothic","Liberation Sans",sans-serif' stroke="#ff0a0a" stroke-width="0.7" stroke-linejoin="round">70</text>
<text x="908.0" y="469.6" textLength="95.2" lengthAdjust="spacingAndGlyphs" font-size="56" font-weight="400" fill="#ff0a0a" font-family='"Noto Sans CJK KR","Liberation Sans",sans-serif' stroke="#ff0a0a" stroke-width="2.0" stroke-linejoin="round">세이상</text>
<text x="1017.6" y="469.6" textLength="95.7" lengthAdjust="spacingAndGlyphs" font-size="56" font-weight="400" fill="#ff0a0a" font-family='"Noto Sans CJK KR","Liberation Sans",sans-serif' stroke="#ff0a0a" stroke-width="2.0" stroke-linejoin="round">순으로</text>
<text x="1125.2" y="469.6" textLength="60.2" lengthAdjust="spacingAndGlyphs" font-size="56" font-weight="400" fill="#ff0a0a" font-family='"Noto Sans CJK KR","Liberation Sans",sans-serif' stroke="#ff0a0a" stroke-width="2.0" stroke-linejoin="round">높아</text>
<text x="1049.8" y="1122" textLength="40.4" lengthAdjust="spacingAndGlyphs" font-size="70" font-weight="700" fill="#c4cad1" font-family='"Noto Sans CJK KR","Liberation Sans",sans-serif' >제</text>
<text x="1086.6" y="1122" textLength="36.1" lengthAdjust="spacingAndGlyphs" font-size="74" font-weight="700" fill="#c4cad1" font-family='"Liberation Sans","Noto Sans CJK KR",sans-serif' >22</text>
<text x="1124.6" y="1122" textLength="34.3" lengthAdjust="spacingAndGlyphs" font-size="70" font-weight="700" fill="#c4cad1" font-family='"Noto Sans CJK KR","Liberation Sans",sans-serif' >대</text>
<text x="1169.4" y="1122" textLength="73.9" lengthAdjust="spacingAndGlyphs" font-size="70" font-weight="700" fill="#c4cad1" font-family='"Noto Sans CJK KR","Liberation Sans",sans-serif' >총선</text>
<text x="1075.0" y="1214" textLength="142.8" lengthAdjust="spacingAndGlyphs" font-size="70" font-weight="700" fill="#c4cad1" font-family='"Noto Sans CJK KR","Liberation Sans",sans-serif' >여론조사</text>
</svg>
</body></html>
